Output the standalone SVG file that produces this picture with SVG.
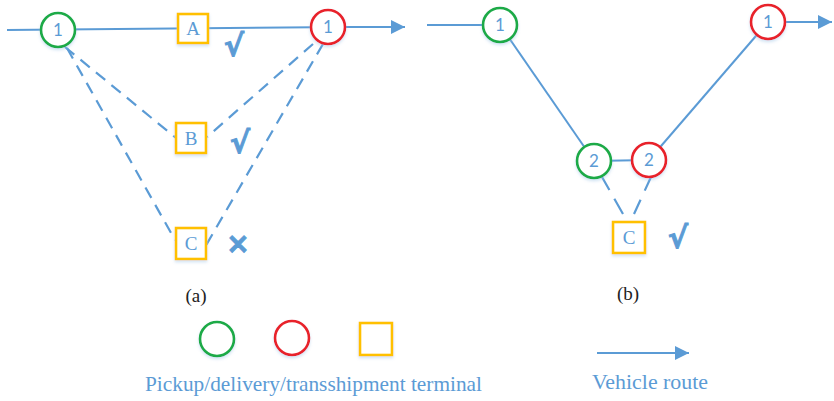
<svg xmlns="http://www.w3.org/2000/svg" width="834" height="401" viewBox="0 0 834 401">
<style>
.route{stroke:#5B9BD5;stroke-width:2;fill:none}
.dash{stroke:#5B9BD5;stroke-width:2.2;fill:none;stroke-dasharray:12 8}
.dash2{stroke:#5B9BD5;stroke-width:2.2;fill:none;stroke-dasharray:15 10 20}
.g{fill:#fff;stroke:#1EAA46;stroke-width:2.6;filter:url(#sh)}
.r{fill:#fff;stroke:#E8202A;stroke-width:2.6;filter:url(#sh)}
.o{fill:#fff;stroke:#FFC000;stroke-width:2.6;filter:url(#sh)}
.num{font-family:Lato,"Open Sans",sans-serif;font-size:17px;fill:#5B9BD5;text-anchor:middle}
.let{font-family:"Liberation Serif",serif;font-size:19px;fill:#5B9BD5;text-anchor:middle}
.mark{font-family:"DejaVu Sans",sans-serif;fill:#5B9BD5;stroke:#5B9BD5;stroke-width:1;text-anchor:middle;font-weight:bold}
.cap{font-family:"Liberation Serif",serif;font-size:19px;fill:#222;text-anchor:middle}
.leg{font-family:"Liberation Serif",serif;font-size:21px;fill:#5B9BD5}
</style>
<defs>
<marker id="arr" viewBox="0 0 10 10" refX="10" refY="5" markerWidth="7" markerHeight="7" markerUnits="strokeWidth" orient="auto">
<path d="M0,0 L10,5 L0,10 Z" fill="#5B9BD5"/>
</marker>
<filter id="sh" x="-30%" y="-30%" width="160%" height="170%">
<feDropShadow dx="0" dy="2" stdDeviation="1.5" flood-color="#9DC3E6" flood-opacity="0.45"/>
</filter>
</defs>
<g id="connectors">
<line class="route" x1="7" y1="30" x2="345" y2="27"/>
<line class="route" x1="345" y1="27" x2="405" y2="27" marker-end="url(#arr)"/>
<line class="dash" x1="65" y1="47" x2="176" y2="138"/>
<line class="dash" x1="67" y1="48" x2="175" y2="240"/>
<line class="dash" x1="313" y1="44" x2="207" y2="137"/>
<line class="dash" x1="323" y1="44" x2="205" y2="247"/>
<line class="route" x1="427" y1="25" x2="500" y2="25"/>
<line class="route" x1="500" y1="25" x2="594" y2="161"/>
<line class="route" x1="594" y1="161" x2="649" y2="160"/>
<line class="route" x1="649" y1="160" x2="768" y2="22"/>
<line class="route" x1="785" y1="22" x2="832" y2="22" marker-end="url(#arr)"/>
<line class="dash2" x1="602" y1="177" x2="623" y2="214"/>
<line class="dash2" x1="651" y1="177" x2="634" y2="214"/>
<line class="route" x1="597" y1="353" x2="689" y2="353" marker-end="url(#arr)"/>
</g>
<g id="a-pick1"><circle class="g" cx="58" cy="30" r="17"/><text class="num" x="58" y="36">1</text></g>
<g id="a-A"><rect class="o" x="178" y="14" width="30" height="29"/><text class="let" x="193" y="35">A</text></g>
<g id="a-del1"><circle class="r" cx="328" cy="27" r="17"/><text class="num" x="328" y="33">1</text></g>
<g id="a-B"><rect class="o" x="176" y="123" width="30" height="30"/><text class="let" x="191" y="145">B</text></g>
<g id="a-C"><rect class="o" x="176" y="228" width="30" height="31"/><text class="let" x="191" y="250">C</text></g>
<g id="marks">
<text class="mark" x="234" y="56" font-size="30">√</text>
<text class="mark" x="240" y="153" font-size="30">√</text>
<text class="mark" x="238" y="253" font-size="28">×</text>
<text class="mark" x="678" y="248" font-size="30">√</text>
</g>
<g id="b-pick1"><circle class="g" cx="500" cy="25" r="17"/><text class="num" x="500" y="31">1</text></g>
<g id="b-del1"><circle class="r" cx="768" cy="22" r="17"/><text class="num" x="768" y="28">1</text></g>
<g id="b-pick2"><circle class="g" cx="594" cy="161" r="17"/><text class="num" x="594" y="167">2</text></g>
<g id="b-del2"><circle class="r" cx="649" cy="160" r="17"/><text class="num" x="649" y="166">2</text></g>
<g id="b-C"><rect class="o" x="613" y="222" width="32" height="31"/><text class="let" x="629" y="244">C</text></g>
<g id="captions">
<text class="cap" x="196" y="302">(a)</text>
<text class="cap" x="628" y="300">(b)</text>
</g>
<g id="legend">
<circle class="g" cx="217" cy="339" r="17"/>
<circle class="r" cx="292" cy="338" r="17"/>
<rect class="o" x="360" y="323" width="32" height="32"/>
<text class="leg" x="145" y="391" textLength="337" lengthAdjust="spacingAndGlyphs">Pickup/delivery/transshipment terminal</text>
<text class="leg" x="592" y="389" textLength="116" lengthAdjust="spacingAndGlyphs">Vehicle route</text>
</g>
</svg>
